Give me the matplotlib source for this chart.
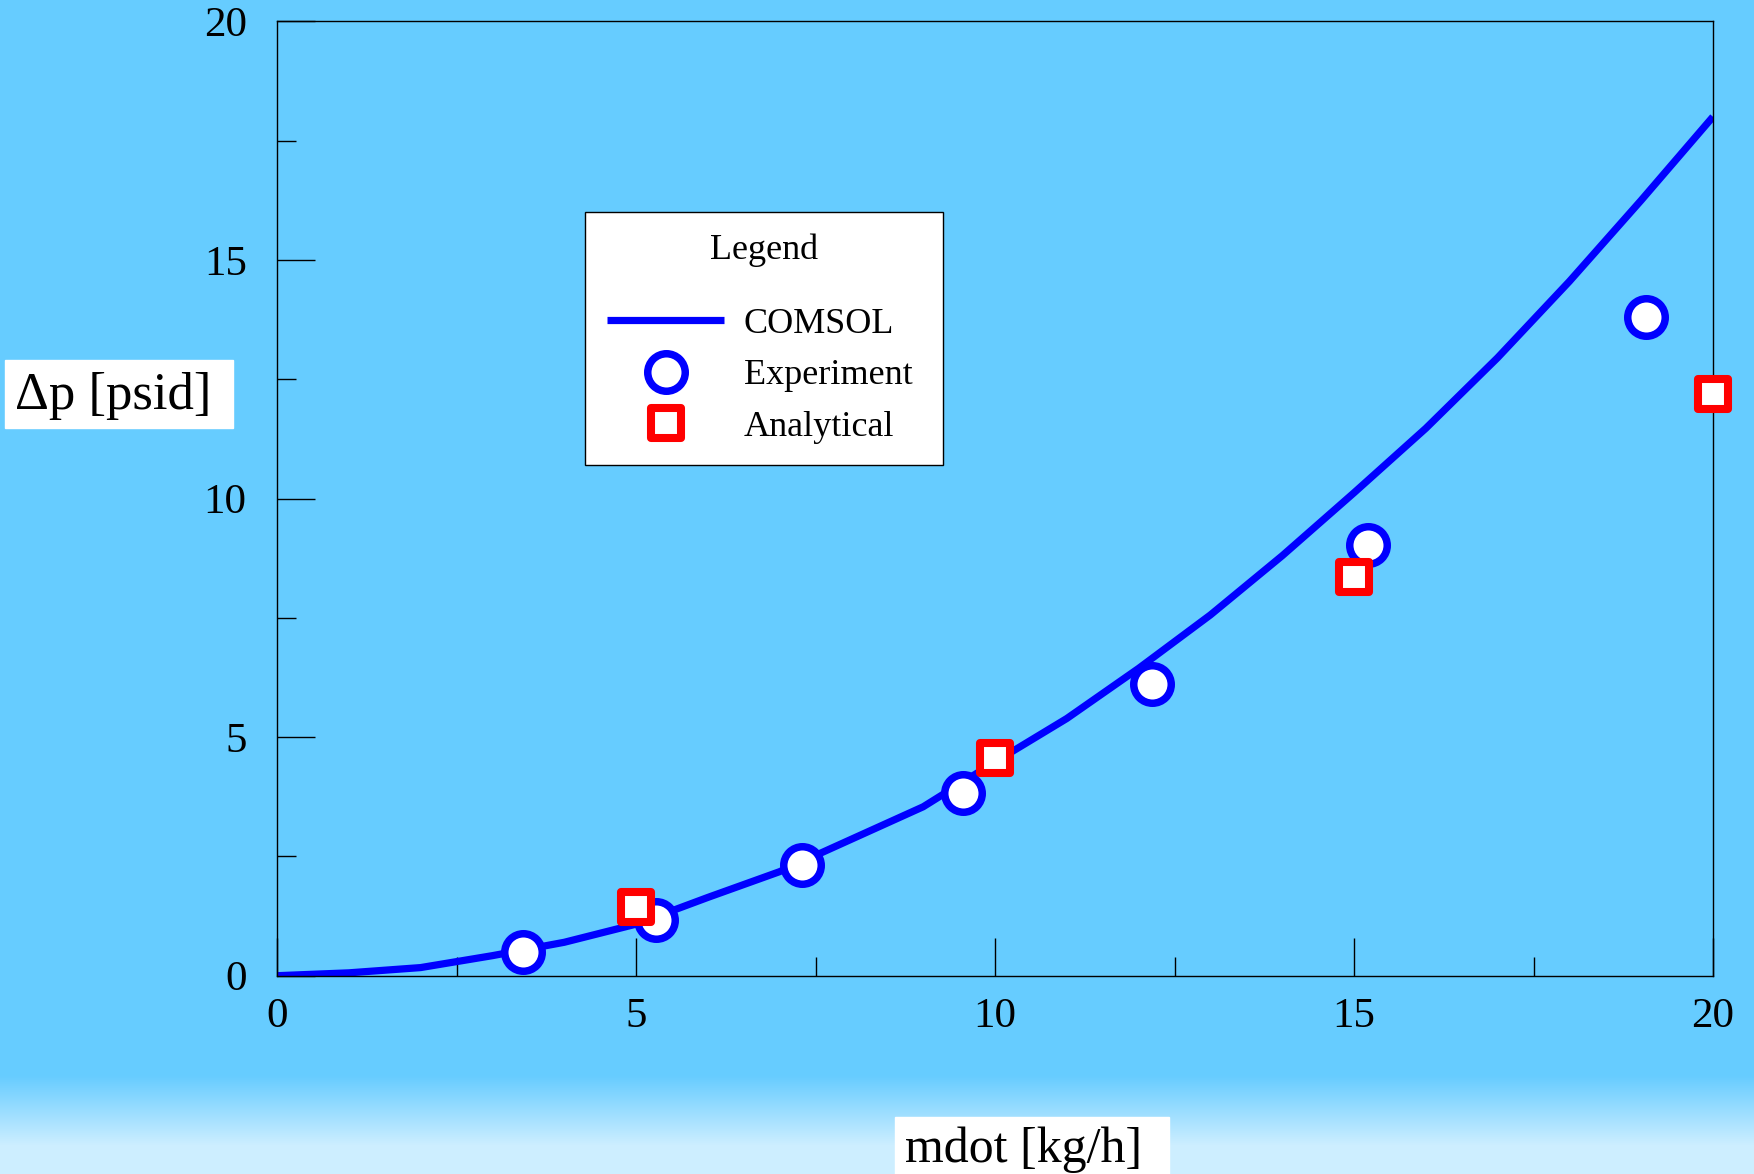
import matplotlib
matplotlib.use("Agg")
import matplotlib.pyplot as plt
import numpy as np
from matplotlib.markers import MarkerStyle
from matplotlib.patches import Rectangle

plt.rcParams['font.family'] = ['Liberation Serif', 'DejaVu Serif']

# данные
comsol_x = [0, 1, 2, 3, 4, 5, 6, 7, 8, 9, 10, 11, 12, 13, 14, 15, 16, 17, 18, 19, 20]
comsol_y = [0, 0.06, 0.17, 0.42, 0.70, 1.08, 1.64, 2.18, 2.86, 3.54, 4.48,
            5.39, 6.44, 7.56, 8.80, 10.12, 11.47, 12.95, 14.55, 16.25, 18.0]

exp_x = [3.43, 5.28, 7.31, 9.56, 12.19, 15.20, 19.07]
exp_y = [0.49, 1.16, 2.33, 3.83, 6.12, 9.03, 13.80]

an_x = [5, 10, 15, 20]
an_y = [1.44, 4.56, 8.36, 12.20]

W, H = 1754, 1174
bg_top = np.array([102, 204, 255]) / 255
bg_bot = np.array([205, 238, 255]) / 255

fig = plt.figure(figsize=[W / 100, H / 100], dpi=100, facecolor='#66CCFF')

# фон с градиентом внизу
bg = fig.add_axes([0, 0, 1, 1], zorder=-10)
rows = np.arange(H)
t = np.clip((rows - 1075) / 70.0, 0, 1)[:, None]
grad = bg_top * (1 - t) + bg_bot * t
bg.imshow(np.repeat(grad[:, None, :], 2, axis=1), aspect='auto', extent=[0, 1, 0, 1])
bg.axis('off')

ax = fig.add_axes([277 / W, 1 - 975.7 / H, (1713 - 277) / W, (975.7 - 21.3) / H])
ax.set_facecolor('none')

ax.plot(comsol_x, comsol_y, color='#0000FF', lw=5.2, label='COMSOL', zorder=2,
        solid_joinstyle='round', solid_capstyle='butt')
ax.plot(exp_x, exp_y, ls='none', marker='o', ms=27, mew=5.4, mec='#0000FF', mfc='white',
        label='Experiment ', zorder=3, clip_on=False)
ax.plot(an_x, an_y, ls='none', marker=MarkerStyle('s', joinstyle='round'), ms=21.8, mew=5.8,
        mec='#FF0000', mfc='white', label='Analytical', zorder=4, clip_on=False)

ax.set_xlim(0, 20)
ax.set_ylim(0, 20)
ax.set_xticks([0, 5, 10, 15, 20])
ax.set_yticks([0, 5, 10, 15, 20])
ax.set_xticks([2.5, 7.5, 12.5, 17.5], minor=True)
ax.set_yticks([2.5, 7.5, 12.5, 17.5], minor=True)
ax.tick_params(which='both', direction='in', width=1.0, color='black', labelsize=31)
ax.tick_params(which='major', length=27.4)
ax.tick_params(which='minor', length=13.7)
ax.tick_params(axis='x', pad=16)
ax.tick_params(axis='y', pad=21.8)
for sp in ax.spines.values():
    sp.set_linewidth(1.0)
    sp.set_color('black')

leg = ax.legend(title='Legend', loc='upper left', bbox_to_anchor=(585 / W, 1 - 211.7 / H),
                bbox_transform=fig.transFigure, borderaxespad=0, fontsize=26, title_fontsize=26,
                handlelength=3.26, handletextpad=0.53, borderpad=0.6, labelspacing=0.5,
                fancybox=False, framealpha=1, edgecolor='black', facecolor='white')
leg.get_frame().set_linewidth(1.0)
leg._legend_box.sep = 29.5

# подписи осей в белых прямоугольниках
fig.patches.append(Rectangle((5 / W, 1 - 427.7 / H), 227.7 / W, 67.7 / H,
                             transform=fig.transFigure, color='white', zorder=1))
fig.text(15 / W, 1 - 409.3 / H, "Δp [psid]", ha='left', va='baseline', fontsize=38, zorder=2)

fig.patches.append(Rectangle((895 / W, 0), 274 / W, (H - 1116.7) / H,
                             transform=fig.transFigure, color='white', zorder=1))
fig.text(905 / W, 1 - 1161.7 / H, "mdot [kg/h]", ha='left', va='baseline', fontsize=36, zorder=2)

fig.savefig('out.png', dpi=100, facecolor=fig.get_facecolor())
